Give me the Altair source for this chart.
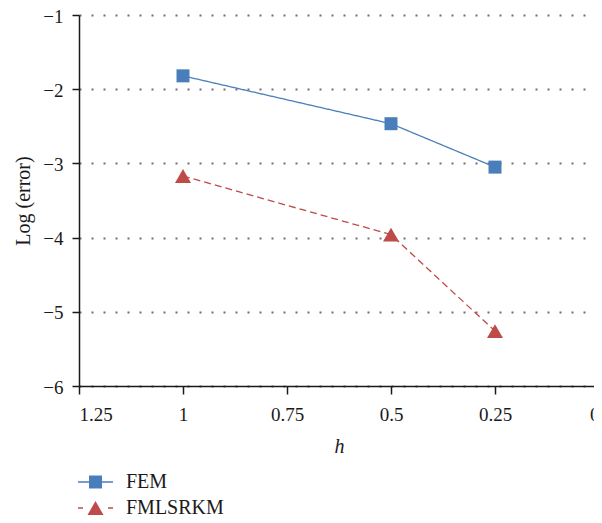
import altair as alt
import pandas as pd

h_values = [1.0, 0.5, 0.25]
fem_log_error = [-1.82, -2.465, -3.05]
fmlsrkm_log_error = [-3.17, -3.96, -5.26]
series_names = ["FEM", "FMLSRKM"]
x_ticks = [1.25, 1.0, 0.75, 0.5, 0.25, 0.0]
y_ticks = [-6, -5, -4, -3, -2, -1]

rows = []
for h, v in zip(h_values, fem_log_error):
    rows.append({"h": h, "err": v, "series": "FEM"})
for h, v in zip(h_values, fmlsrkm_log_error):
    rows.append({"h": h, "err": v, "series": "FMLSRKM"})
df = pd.DataFrame(rows)
legend_df = pd.DataFrame({"series": series_names})

FONT = "Liberation Serif"
colors = ["#4A7EBB", "#BE4B48"]
TXT = "#1a1a1a"

stroke_enc = alt.Stroke("series:N", scale=alt.Scale(domain=series_names, range=colors), legend=None)
fill_enc = alt.Fill("series:N", scale=alt.Scale(domain=series_names, range=colors), legend=None)
shape_enc = alt.Shape("series:N", scale=alt.Scale(domain=series_names, range=["square", "triangle-up"]), legend=None)
size_enc = alt.Size("series:N", scale=alt.Scale(domain=series_names, range=[169, 256]), legend=None)

x_enc = alt.X("h:Q", scale=alt.Scale(domain=[1.25, 0], nice=False, zero=False),
              axis=alt.Axis(values=x_ticks, title="h", grid=False, titleFontStyle="italic",
                            labelFont=FONT, titleFont=FONT, labelFontSize=19, titleFontSize=20,
                            tickSize=8, labelPadding=11, titlePadding=12,
                            labelExpr="datum.value == 0 ? '0' : format(datum.value, '')"))
y_scale = alt.Scale(domain=[-6, -1], nice=False)
y_enc = alt.Y("err:Q", scale=y_scale,
              axis=alt.Axis(values=y_ticks, title="Log (error)", format="d",
                            labelFont=FONT, titleFont=FONT, labelFontSize=19, titleFontSize=20,
                            tickSize=7, labelPadding=9, titlePadding=9, labelOffset=1,
                            grid=True, gridDash=[2, 10], gridColor="#707070", gridWidth=1.8))
y_plain = alt.Y("err:Q", scale=y_scale, axis=None)

lines = alt.Chart(df).mark_line(strokeWidth=1.3).encode(
    x=x_enc, y=y_enc, stroke=stroke_enc,
    strokeDash=alt.StrokeDash("series:N", scale=alt.Scale(domain=series_names, range=[[1, 0], [7, 4]]), legend=None),
)

points = alt.Chart(df).mark_point(filled=True, opacity=1).encode(
    x="h:Q", y=y_plain, fill=fill_enc, shape=shape_enc, size=size_enc,
)

# legend drawn from the series list, rows placed by a point scale below the plot
leg_y = alt.Y("series:N", scale=alt.Scale(type="point", domain=series_names, range=[467, 493], padding=0), axis=None)

leg_rule = alt.Chart(legend_df).mark_rule(strokeWidth=1.3).encode(
    x=alt.value(-1), x2=alt.value(34), y=leg_y, stroke=stroke_enc,
    strokeDash=alt.StrokeDash("series:N", scale=alt.Scale(domain=series_names, range=[[1, 0], [5, 25]]), legend=None),
)
leg_pts = alt.Chart(legend_df).mark_point(filled=True, opacity=1).encode(
    x=alt.value(16.5), y=leg_y, fill=fill_enc, shape=shape_enc, size=size_enc,
)
leg_txt = alt.Chart(legend_df).mark_text(align="left", baseline="middle", font=FONT,
                                         fontSize=20, color=TXT).encode(
    x=alt.value(47), y=leg_y, text="series:N",
)

chart = alt.layer(lines, points, leg_rule, leg_pts, leg_txt).resolve_scale(
    y="independent", strokeDash="independent"
).properties(
    width=520, height=371,
    autosize=alt.AutoSizeParams(type="none"),
    padding={"left": 71, "top": 7, "right": -5, "bottom": 129},
).configure_view(stroke=None).configure_axis(
    labelColor=TXT, titleColor=TXT, domainColor=TXT, tickColor=TXT,
    domainWidth=1.5, tickWidth=1.5, titleFontWeight="normal",
)

chart.save("out.html", embed_options={"renderer": "svg", "actions": False})
